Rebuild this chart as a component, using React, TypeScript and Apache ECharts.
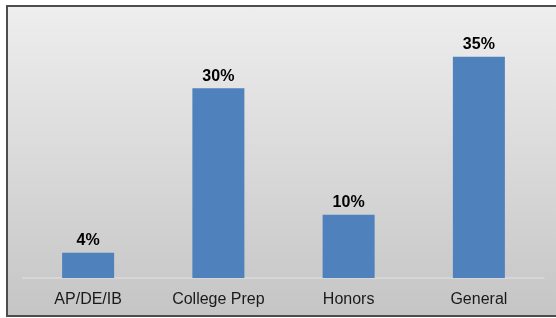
import React, { useEffect, useRef } from "react";
import * as echarts from "echarts";

const categories = ["AP/DE/IB", "College Prep", "Honors", "General"];
const values = [4, 30, 10, 35];

export default function App() {
  const ref = useRef<HTMLDivElement>(null);
  useEffect(() => {
    if (!ref.current) return;
    const chart = echarts.init(ref.current, null, { renderer: "svg" });
    chart.setOption({
      animation: false,
      graphic: [
        {
          type: "rect",
          z: -10,
          silent: true,
          shape: { x: 7, y: 6, width: 700, height: 310 },
          style: {
            fill: new echarts.graphic.LinearGradient(0, 0, 0, 1, [
              { offset: 0, color: "#eeeeee" },
              { offset: 1, color: "#c5c5c5" },
            ]),
            stroke: "#4d4d4d",
            lineWidth: 2,
          },
        },
      ],
      grid: { left: 23, right: 12, top: 25, bottom: 40, containLabel: false },
      xAxis: {
        type: "category",
        data: categories,
        axisTick: { show: false },
        axisLine: { lineStyle: { color: "#dadada", width: 1.5 } },
        axisLabel: {
          color: "#1a1a1a",
          fontFamily: "Liberation Sans, Arial",
          fontSize: 16,
          margin: 12,
        },
      },
      yAxis: {
        type: "value",
        min: 0,
        max: 40,
        show: false,
        splitLine: { show: false },
      },
      series: [
        {
          type: "bar",
          data: values,
          barWidth: 52,
          itemStyle: { color: "#4f81bd" },
          label: {
            show: true,
            position: "top",
            distance: 5,
            formatter: "{c}%",
            color: "#000",
            fontWeight: "bold",
            fontFamily: "Liberation Sans, Arial",
            fontSize: 16,
          },
        },
      ],
    });
    return () => chart.dispose();
  }, []);
  return (
    <div
      ref={ref}
      style={{ position: "fixed", left: 0, top: 0, width: 556, height: 318, overflow: "hidden" }}
    />
  );
}
